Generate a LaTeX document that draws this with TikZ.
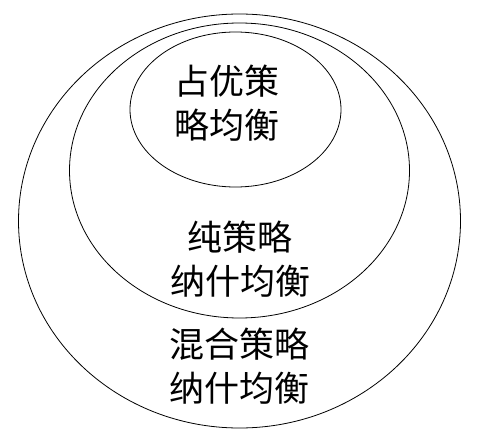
\documentclass[tikz,border=0pt]{standalone}
\usepackage{fontspec}
\usepackage{tikz}
\usetikzlibrary{shapes.geometric}
\newfontfamily\cjk{Noto Sans CJK SC}

\begin{document}
\begin{tikzpicture}[
  x=1pt,y=-1pt,
  ring/.style={ellipse,draw=black,line width=0.8pt,inner sep=0pt},
  label/.style={font=\cjk\fontsize{35}{44}\selectfont,align=center,inner sep=0pt},
]
\useasboundingbox (0,0) rectangle (478,438);

% ===== nested sets =====
\node[ring,minimum width=442pt,minimum height=414pt] (mixed) at (239.5,221) {};
\node[ring,minimum width=340pt,minimum height=295pt] (pure) at (239.5,170.5) {};
\node[ring,minimum width=211pt,minimum height=155pt] (dominant) at (235.5,109.5) {};

% ===== labels =====
\node[label] (dominanttext) at (227,103) {占优策\\略均衡};
\node[label] (puretext) at (240,259) {纯策略\\纳什均衡};
\node[label] (mixedtext) at (239,366) {混合策略\\纳什均衡};

\end{tikzpicture}
\end{document}
